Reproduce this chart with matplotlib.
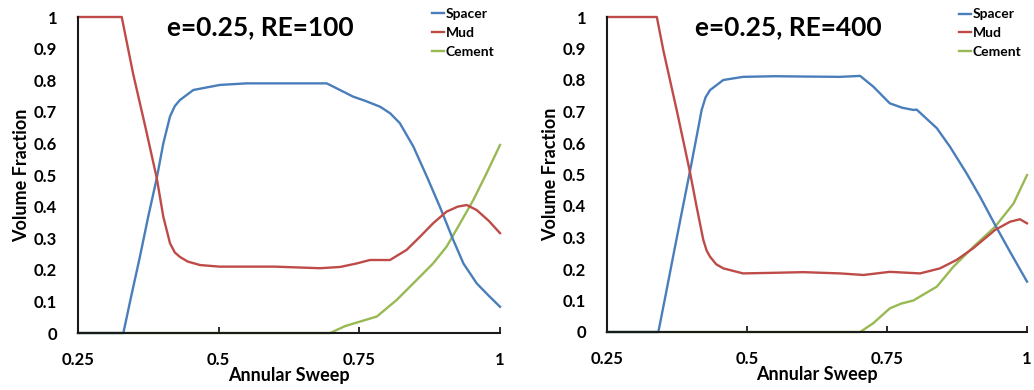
import matplotlib
matplotlib.use("Agg")
import matplotlib.pyplot as plt

plt.rcParams['font.family'] = ['Lato', 'DejaVu Sans']
plt.rcParams['font.weight'] = 'bold'

# ---- e=0.25, RE=100 ----
re100_spacer_x = [0.25, 0.3306, 0.345, 0.360, 0.375, 0.390, 0.4016, 0.4135, 0.422, 0.431, 0.455, 0.502,
                  0.55, 0.60, 0.65, 0.692, 0.71, 0.739, 0.760, 0.787, 0.805, 0.822, 0.846, 0.870,
                  0.893, 0.917, 0.935, 0.9586, 0.98, 1.0]
re100_spacer_y = [0.0, 0.0, 0.12, 0.241, 0.37, 0.49, 0.60, 0.685, 0.718, 0.737, 0.769, 0.785,
                  0.79, 0.79, 0.79, 0.79, 0.774, 0.748, 0.735, 0.716, 0.695, 0.664, 0.59, 0.495,
                  0.40, 0.294, 0.22, 0.157, 0.118, 0.083]

re100_mud_x = [0.25, 0.3277, 0.348, 0.370, 0.390, 0.4016, 0.4135, 0.422, 0.431, 0.445, 0.467, 0.502,
               0.60, 0.68, 0.716, 0.745, 0.769, 0.8045, 0.834, 0.858, 0.881, 0.905,
               0.925, 0.941, 0.9586, 0.98, 1.0]
re100_mud_y = [1.0, 1.0, 0.82, 0.65, 0.49, 0.368, 0.284, 0.255, 0.241, 0.226, 0.215, 0.21,
               0.21, 0.205, 0.209, 0.22, 0.231, 0.231, 0.263, 0.305, 0.347, 0.384,
               0.400, 0.405, 0.389, 0.355, 0.316]

re100_cement_x = [0.25, 0.698, 0.725, 0.751, 0.781, 0.816, 0.852, 0.881, 0.905, 0.929,
                  0.9526, 0.976, 1.0]
re100_cement_y = [0.0, 0.0, 0.022, 0.036, 0.052, 0.104, 0.168, 0.22, 0.273, 0.347,
                  0.421, 0.505, 0.595]

# ---- e=0.25, RE=400 ----
re400_spacer_x = [0.25, 0.3417, 0.355, 0.368, 0.383, 0.398, 0.410, 0.419, 0.426, 0.434, 0.4577,
                  0.493, 0.55, 0.60, 0.666, 0.702, 0.7255, 0.755, 0.777, 0.797, 0.803,
                  0.839, 0.8625, 0.892, 0.916, 0.943, 0.9696, 1.0]
re400_spacer_y = [0.0, 0.0, 0.12, 0.239, 0.375, 0.509, 0.62, 0.705, 0.745, 0.768, 0.80,
                  0.81, 0.812, 0.811, 0.81, 0.813, 0.779, 0.726, 0.712, 0.705, 0.706,
                  0.647, 0.588, 0.504, 0.43, 0.34, 0.255, 0.16]

re400_mud_x = [0.25, 0.339, 0.3505, 0.375, 0.398, 0.410, 0.422, 0.428, 0.434, 0.445, 0.4577, 0.493,
               0.55, 0.60, 0.666, 0.708, 0.755, 0.809, 0.8446, 0.8745, 0.904, 0.943,
               0.9696, 0.9875, 1.0]
re400_mud_y = [1.0, 1.0, 0.895, 0.70, 0.509, 0.398, 0.292, 0.258, 0.239, 0.215, 0.202, 0.186,
               0.188, 0.19, 0.186, 0.181, 0.191, 0.186, 0.202, 0.229, 0.266, 0.324,
               0.35, 0.358, 0.345]

re400_cement_x = [0.25, 0.702, 0.7255, 0.755, 0.775, 0.797, 0.839, 0.8684, 0.904, 0.943,
                  0.976, 1.0]
re400_cement_y = [0.0, 0.0, 0.028, 0.075, 0.09, 0.10, 0.144, 0.207, 0.27, 0.334,
                  0.408, 0.498]

titles = ["e=0.25, RE=100", "e=0.25, RE=400"]
series_names = ["Spacer", "Mud", "Cement"]
x_ticks = [0.25, 0.5, 0.75, 1.0]
x_tick_labels = ["0.25", "0.5", "0.75", "1"]
y_ticks = [0, 0.1, 0.2, 0.3, 0.4, 0.5, 0.6, 0.7, 0.8, 0.9, 1.0]
y_tick_labels = ["0", "0.1", "0.2", "0.3", "0.4", "0.5", "0.6", "0.7", "0.8", "0.9", "1"]

colors = {"Spacer": "#4a7ebb", "Mud": "#be4b48", "Cement": "#98b954"}

panels = [
    {"Spacer": (re100_spacer_x, re100_spacer_y),
     "Mud": (re100_mud_x, re100_mud_y),
     "Cement": (re100_cement_x, re100_cement_y)},
    {"Spacer": (re400_spacer_x, re400_spacer_y),
     "Mud": (re400_mud_x, re400_mud_y),
     "Cement": (re400_cement_x, re400_cement_y)},
]

fig = plt.figure(figsize=(10.34, 3.90), dpi=100)
ax_rects = [[78 / 1034, 57 / 390, 422 / 1034, 316 / 390],
            [607 / 1034, 58 / 390, 420 / 1034, 315 / 390]]

for rect, title, data in zip(ax_rects, titles, panels):
    ax = fig.add_axes(rect)
    for name in ["Cement", "Spacer", "Mud"]:
        xs, ys = data[name]
        ax.plot(xs, ys, color=colors[name], lw=1.7, label=name, clip_on=False,
                solid_joinstyle='round')
    ax.set_xlim(0.25, 1.0)
    ax.set_ylim(0, 1.0)
    ax.spines['top'].set_visible(False)
    ax.spines['right'].set_visible(False)
    for s in ['left', 'bottom']:
        ax.spines[s].set_color('#1a1a1a')
        ax.spines[s].set_linewidth(1.5)
    ax.set_xticks(x_ticks)
    ax.set_xticklabels(x_tick_labels)
    ax.set_yticks(y_ticks)
    ax.set_yticklabels(y_tick_labels)
    ax.tick_params(axis='x', direction='in', length=4, width=1.3, pad=14,
                   labelsize=12, color='#1a1a1a')
    ax.tick_params(axis='y', length=0, pad=15, labelsize=12)
    ax.set_xlabel("Annular Sweep", fontsize=13, fontweight='bold', labelpad=-1)
    ax.set_ylabel("Volume Fraction", fontsize=13, fontweight='bold', labelpad=3)
    ax.text(0.431, 0.968, title, transform=ax.transAxes, ha='center', va='center',
            fontsize=19, fontweight='bold')
    handles, labels = ax.get_legend_handles_labels()
    order = [labels.index(n) for n in series_names]
    ax.legend([handles[i] for i in order], series_names, loc='upper right',
              bbox_to_anchor=(1.0, 1.045), frameon=False,
              handlelength=0.9, handletextpad=0.1, labelspacing=0.5,
              borderaxespad=0.0, prop={'weight': 'bold', 'size': 10})

fig.savefig("out.png", dpi=100)
